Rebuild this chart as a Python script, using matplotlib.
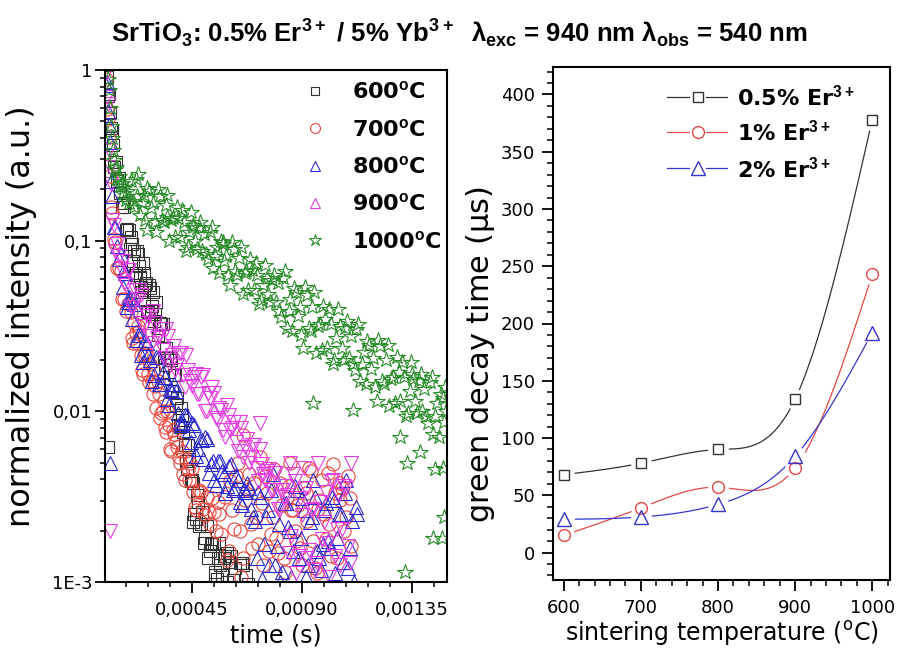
import numpy as np
import matplotlib
matplotlib.use('Agg')
import matplotlib.pyplot as plt
from matplotlib import font_manager
from matplotlib.lines import Line2D
from matplotlib.ticker import FixedLocator, FixedFormatter, MultipleLocator, LogLocator, NullFormatter

# ---------------- left panel: decay curves (time in microseconds, log10 of normalized intensity)
t_600 = [104, 108, 112, 116, 120, 124, 128, 133, 138, 144, 150, 156, 162, 168, 174, 180, 186, 192, 198, 205,
         212, 220, 228, 236, 244, 252, 260, 268, 276, 284, 292, 300, 310, 320, 330, 340, 350, 360, 370, 380,
         390, 400, 410, 420, 430, 440, 450, 460, 470, 480, 492, 504, 516, 528, 540, 552, 565, 580, 595, 610,
         625, 640, 660, 680, 700, 106, 454, 544, 560, 593, 655,
         202, 208, 216, 224, 232, 240, 248, 256, 264, 272, 280, 288, 296,
         305, 315, 325, 335, 345, 355, 365, 375, 385, 395, 405, 415, 425, 435, 445, 455, 465, 475,
         486, 498, 510, 522, 534, 546, 558, 572, 587, 602, 617, 632, 648, 670, 690]
logI_600 = [-0.04, -0.15, -0.14, -0.25, -0.34, -0.35, -0.44, -0.57, -0.54, -0.65, -0.63, -0.72, -0.80, -0.78, -0.80,
            -0.94, -0.93, -0.94, -1.05, -1.02, -1.06, -1.19, -1.08, -1.21, -1.30, -1.19, -1.26, -1.41, -1.26, -1.41,
            -1.30, -1.43, -1.55, -1.48, -1.49, -1.73, -1.69, -1.69, -1.88, -1.79, -1.92, -2.09, -2.02, -2.20, -2.34,
            -2.28, -2.40, -2.60, -2.49, -2.67, -2.59, -2.74, -2.86, -2.78, -2.77, -2.98, -2.90, -2.86, -3.00, -2.85,
            -2.92, -3.03, -2.90, -3.01, -3.08, -2.21, -2.65, -2.96, -2.77, -2.83, -2.89,
            -0.98, -1.12, -1.20, -1.06, -1.15, -1.27, -1.13, -1.29, -1.25, -1.42, -1.28, -1.38, -1.47,
            -1.36, -1.51, -1.49, -1.68, -1.63, -1.77, -1.70, -1.79, -1.96, -2.08, -1.98, -2.12, -2.29, -2.20, -2.41,
            -2.42, -2.63, -2.53,
            -2.66, -2.77, -2.67, -2.82, -2.78, -2.94, -2.86, -2.96, -2.85, -2.88, -2.99, -3.05, -2.89, -2.96, -3.06]

t_700 = [100, 104, 108, 112, 116, 120, 125, 130, 136, 142, 150, 158, 166, 174, 182, 190,
         200, 210, 220, 230, 240, 250, 260, 270, 280, 290, 300, 310, 320, 330, 340, 350, 360,
         372, 384, 396, 408, 420, 432, 444, 456, 468, 480, 495, 510, 525, 540, 555, 570,
         585, 600, 615, 630, 645, 660, 675, 690, 705, 720, 735, 750, 765, 780, 795, 810, 825, 840,
         855, 870, 885, 900, 915, 930, 945, 960, 975, 990, 1005, 1020, 1035, 1050, 1065, 1080, 1095,
         660, 851,
         205, 215, 225, 235, 245, 255, 265, 275, 285, 295, 305, 315, 325, 335, 345, 355,
         366, 378, 390, 402, 414, 426, 438, 450, 462, 474, 488, 502, 518, 532, 548, 562,
         592, 607, 622, 637, 652, 667, 682, 697, 712, 727, 742, 757, 772, 787, 802, 817, 832, 847,
         862, 877, 892, 907, 922, 937, 952, 967, 982, 997, 1012, 1027, 1042, 1057, 1072, 1087, 1102]
logI_700 = [-0.05, -0.23, -0.29, -0.39, -0.62, -0.80, -0.84, -0.99, -1.01, -1.16, -1.16, -1.18, -1.34, -1.34, -1.41, -1.37,
            -1.42, -1.60, -1.54, -1.50, -1.67, -1.78, -1.66, -1.78, -1.72, -1.90, -1.85, -1.82, -2.04, -2.00, -2.09, -2.00, -2.22,
            -2.11, -2.18, -2.27, -2.23, -2.40, -2.34, -2.30, -2.47, -2.58, -2.46, -2.57, -2.50, -2.66, -2.59, -2.53, -2.72,
            -2.50, -2.82, -2.58, -2.38, -2.70, -2.86, -2.46, -2.66, -2.42, -2.78, -2.54, -2.38, -2.82, -2.62, -2.74, -2.42,
            -2.86, -2.50, -2.58, -2.70, -2.55, -2.90, -2.48, -2.33, -2.76, -2.95, -2.52, -2.60, -2.36, -2.85, -2.48, -2.42,
            -2.45, -2.62, -2.51,
            -2.14, -2.30,
            -1.57, -1.48, -1.60, -1.53, -1.76, -1.67, -1.67, -1.83, -1.82, -1.76, -1.98, -1.90, -2.01, -1.94, -2.12, -2.08,
            -2.23, -2.13, -2.21, -2.30, -2.37, -2.28, -2.40, -2.33, -2.56, -2.47, -2.47, -2.61, -2.59, -2.51, -2.70, -2.60,
            -2.87, -2.41, -2.69, -2.30, -2.97, -2.52, -2.37, -2.80, -2.62, -2.27, -2.90, -2.48, -2.72, -2.34, -2.83, -2.55,
            -2.94, -2.44, -2.58, -2.76, -2.80, -2.45, -2.64, -2.35, -2.92, -2.57, -2.40, -2.75, -2.66, -2.31, -2.86, -2.52,
            -2.70, -2.38, -2.79]

t_800 = [100, 104, 108, 112, 116, 120, 125, 130, 136, 143, 150, 158,
         168, 178, 188, 198, 209, 222, 237, 250, 265, 280, 295, 310, 325, 340, 355, 370, 385, 400, 415, 430,
         445, 460, 475, 490, 505, 520, 535, 550, 565, 580, 595, 610, 625, 640, 655, 670, 685, 700,
         715, 730, 745, 760, 775, 790, 805, 820, 835, 850, 865, 880, 895, 910, 925, 940, 955, 970, 985, 1000,
         1015, 1030, 1045, 1060, 1075, 1090, 1105, 1120, 115,
         173, 183, 193, 203, 215, 229, 243, 257, 272, 287, 302, 317, 332, 347, 362, 377, 392, 407, 422, 437,
         452, 467, 482, 497, 512, 527, 542, 557, 572, 587, 602, 617, 632, 647, 662, 677, 692, 707,
         722, 737, 752, 767, 782, 797, 812, 827, 842, 857, 872, 887, 902, 917, 932, 947, 962, 977, 992, 1007,
         1022, 1037, 1052, 1067, 1082, 1097, 1112, 1127]
logI_800 = [-0.09, -0.07, -0.24, -0.32, -0.42, -0.65, -0.74, -0.92, -0.92, -1.03, -1.11, -1.08,
            -1.27, -1.19, -1.36, -1.34, -1.34, -1.58, -1.55, -1.71, -1.60, -1.70, -1.79, -1.68, -1.84, -1.80, -1.96,
            -1.88, -1.88, -2.06, -2.07, -2.02, -2.18, -2.08, -2.22, -2.17, -2.15, -2.36, -2.29, -2.43, -2.29, -2.37,
            -2.44, -2.31, -2.45, -2.40, -2.55, -2.47, -2.45, -2.62,
            -2.86, -2.50, -2.78, -2.58, -2.46, -2.90, -2.66, -2.94, -2.54, -2.70, -2.82, -2.46, -2.74, -2.58, -2.90,
            -2.62, -2.50, -2.86, -2.78, -2.54, -2.80, -2.52, -2.74, -2.60, -2.48, -2.92, -2.64, -2.56, -2.30,
            -1.17, -1.39, -1.33, -1.46, -1.37, -1.55, -1.67, -1.58, -1.67, -1.82, -1.68, -1.84, -1.77, -1.93, -1.87,
            -1.84, -2.01, -2.08, -2.02, -2.11, -2.07, -2.26, -2.17, -2.28, -2.16, -2.31, -2.40, -2.29, -2.35, -2.48,
            -2.32, -2.46, -2.38, -2.53, -2.46, -2.42, -2.57, -2.64,
            -2.47, -2.98, -2.62, -2.90, -2.37, -2.79, -3.00, -2.54, -2.68, -2.97, -2.44, -2.86, -2.51, -2.97, -2.65,
            -2.40, -2.82, -2.93, -2.58, -2.76, -2.50, -2.95, -2.60, -2.88, -2.40, -2.80, -3.00, -2.60]

t_900 = [100, 104, 108, 112, 116, 120, 125, 130, 136, 143, 150, 158,
         168, 180, 193, 209, 225, 240, 255, 270, 285, 300, 315, 330, 345, 360, 375, 390, 405, 420, 435, 450,
         465, 480, 495, 510, 525, 540, 555, 570, 585, 600, 615, 630, 645, 660, 675, 690, 705, 720, 735, 750,
         765, 780, 795, 810, 825,
         840, 855, 870, 885, 900, 915, 930, 945, 960, 975, 990, 1005, 1020, 1035, 1050, 1065, 1080, 1095,
         115, 728, 851,
         174, 187, 201, 217, 232, 247, 262, 277, 292, 307, 322, 337, 352, 367, 382, 397, 412, 427, 442, 457,
         472, 487, 502, 517, 532, 547, 562, 577, 592, 607, 622, 637, 652, 667, 682, 697, 712, 727, 742, 757,
         772, 787, 802, 817, 832,
         847, 862, 877, 892, 907, 922, 937, 952, 967, 982, 997, 1012, 1027, 1042, 1057, 1072, 1087, 1102]
logI_900 = [-0.02, -0.16, -0.20, -0.47, -0.57, -0.67, -0.88, -0.91, -1.06, -1.02, -1.09, -1.16,
            -1.12, -1.26, -1.17, -1.39, -1.34, -1.32, -1.50, -1.44, -1.60, -1.48, -1.56, -1.64, -1.52, -1.73, -1.62,
            -1.73, -1.66, -1.86, -1.76, -1.85, -1.78, -1.90, -1.79, -2.00, -1.92, -1.89, -2.05, -1.99, -2.15, -2.02,
            -2.10, -2.18, -2.06, -2.27, -2.16, -2.27, -2.20, -2.41, -2.31, -2.40, -2.34, -2.46, -2.36, -2.57, -2.50,
            -2.49, -2.73, -2.41, -2.85, -2.61, -2.45, -2.81, -2.57, -2.89, -2.53, -2.65, -2.77, -2.41, -2.85, -2.49,
            -2.69, -2.45, -2.89,
            -2.70, -2.07, -2.30,
            -1.25, -1.17, -1.39, -1.29, -1.29, -1.48, -1.43, -1.56, -1.41, -1.57, -1.52, -1.69, -1.56, -1.67, -1.76,
            -1.66, -1.79, -1.67, -1.82, -1.80, -1.90, -1.80, -2.00, -1.89, -1.86, -2.04, -1.98, -2.11, -1.96, -2.11,
            -2.06, -2.23, -2.10, -2.21, -2.30, -2.20, -2.33, -2.22, -2.37, -2.35, -2.46, -2.36, -2.57, -2.46, -2.44,
            -2.83, -2.37, -2.95, -2.51, -2.33, -2.86, -2.58, -2.93, -2.30, -2.75, -2.47, -2.97, -2.40, -2.69, -2.90,
            -2.44, -2.79, -2.30]

t_1000 = [108, 112, 116, 119, 122, 126, 130, 135, 140, 145, 150, 156, 162, 168, 174, 180, 186, 192,
          200, 215, 230, 245, 260, 275, 290, 305, 320, 335, 350, 365, 380, 395, 410, 425, 440, 455, 470, 485,
          500, 515, 530, 545, 560, 575, 590, 605, 620, 635, 650, 665, 680, 695, 710, 725, 740, 755, 770, 785,
          800, 815, 830, 845, 860, 875, 890, 905, 920, 935, 950, 965, 980, 995, 1010, 1025, 1040, 1055, 1070, 1085,
          1100, 1115, 1130, 1145, 1160, 1175, 1190, 1205, 1220, 1235, 1250, 1265, 1280, 1295, 1310, 1325, 1340,
          1355, 1370, 1385, 1400, 1415, 1430, 1445, 1460, 1475, 1490,
          207, 222, 237, 252, 267, 282, 297, 312, 327, 342, 357, 372, 387, 402, 417, 432, 447, 462, 477, 492,
          507, 522, 537, 552, 567, 582, 597, 612, 627, 642, 657, 672, 687, 702, 717, 732, 747, 762, 777, 792,
          807, 822, 837, 852, 867, 882, 897, 912, 927, 942, 957, 972, 987, 1002, 1017, 1032, 1047, 1062, 1077, 1092,
          1107, 1122, 1137, 1152, 1167, 1182, 1197, 1212, 1227, 1242, 1257, 1272, 1287, 1302, 1317, 1332, 1347,
          1362, 1377, 1392, 1407, 1422, 1437, 1452, 1467, 1482,
          225, 266, 348, 454, 577, 945, 1109, 1350, 1485, 1321, 1436, 1473, 1481, 1444, 1330, 1383, 1477, 1301]
logI_1000 = [-0.05, -0.12, -0.22, -0.33, -0.40, -0.47, -0.53, -0.58, -0.57, -0.64, -0.62, -0.68, -0.66, -0.72, -0.69,
             -0.76, -0.71, -0.78,
             -0.65, -0.80, -0.61, -0.78, -0.88, -0.71, -0.78, -0.95, -0.74, -0.89, -0.73, -0.88, -0.98, -0.87, -0.82,
             -1.06, -0.95, -0.91, -1.05, -0.89, -0.96, -1.11, -0.92, -1.09, -1.19, -1.02, -1.09, -1.26, -1.05, -1.20,
             -1.04, -1.19, -1.29, -1.17, -1.13, -1.37, -1.26, -1.22, -1.36, -1.20, -1.25, -1.45, -1.18, -1.41, -1.53,
             -1.30, -1.39, -1.63, -1.32, -1.53, -1.30, -1.50, -1.64, -1.46, -1.40, -1.72, -1.57, -1.50, -1.70, -1.47,
             -1.56, -1.76, -1.49, -1.72, -1.84, -1.61, -1.69, -1.94, -1.62, -1.84, -1.61, -1.81, -1.95, -1.77, -1.71,
             -2.03, -1.88, -1.81, -2.01, -1.78, -1.87, -2.07, -1.80, -2.03, -2.15, -1.92, -2.00,
             -0.77, -0.64, -0.85, -0.73, -0.69, -0.81, -0.89, -0.70, -0.88, -0.79, -1.00, -0.87, -0.80, -0.98, -0.89,
             -1.04, -0.83, -1.00, -0.92, -1.06, -1.08, -0.95, -1.16, -1.04, -1.00, -1.12, -1.20, -1.01, -1.18, -1.10,
             -1.31, -1.18, -1.11, -1.29, -1.20, -1.35, -1.14, -1.31, -1.23, -1.36, -1.41, -1.22, -1.51, -1.34, -1.28,
             -1.44, -1.55, -1.27, -1.51, -1.39, -1.66, -1.49, -1.38, -1.63, -1.49, -1.70, -1.40, -1.63, -1.51, -1.69,
             -1.72, -1.52, -1.82, -1.65, -1.59, -1.75, -1.86, -1.58, -1.82, -1.70, -1.97, -1.80, -1.68, -1.94, -1.80,
             -2.01, -1.71, -1.94, -1.82, -2.00, -2.03, -1.83, -2.13, -1.95, -1.90, -2.06,
             -0.74, -0.94, -0.86, -0.92, -1.01, -1.95, -1.99, -1.78, -1.86, -2.94, -2.74, -2.74, -2.62, -2.34, -2.30,
             -2.24, -2.33, -2.15]

decay_labels = ['600', '700', '800', '900', '1000']

# ---------------- right panel: green decay time vs sintering temperature
temps = [600, 700, 800, 900, 1000]
tau_05 = [68, 78, 90, 134, 378]
tau_1 = [15, 39, 57, 74, 243]
tau_2 = [29, 31, 42, 84, 192]
conc_labels = ['0.5%', '1%', '2%']


def natural_spline(x, y, xs):
    x = np.asarray(x, float)
    y = np.asarray(y, float)
    n = len(x)
    h = np.diff(x)
    A = np.zeros((n, n))
    b = np.zeros(n)
    A[0, 0] = 1
    A[-1, -1] = 1
    for i in range(1, n - 1):
        A[i, i - 1] = h[i - 1]
        A[i, i] = 2 * (h[i - 1] + h[i])
        A[i, i + 1] = h[i]
        b[i] = 3 * ((y[i + 1] - y[i]) / h[i] - (y[i] - y[i - 1]) / h[i - 1])
    c = np.linalg.solve(A, b)
    out = np.empty_like(xs, dtype=float)
    for j, xv in enumerate(xs):
        i = min(max(np.searchsorted(x, xv) - 1, 0), n - 2)
        bi = (y[i + 1] - y[i]) / h[i] - h[i] * (2 * c[i] + c[i + 1]) / 3
        di = (c[i + 1] - c[i]) / (3 * h[i])
        dx = xv - x[i]
        out[j] = y[i] + bi * dx + c[i] * dx ** 2 + di * dx ** 3
    return out


installed = {f.name for f in font_manager.fontManager.ttflist}
if 'Liberation Sans Narrow' in installed:
    title_family, title_size = 'Liberation Sans Narrow', 22
else:
    title_family, title_size = 'Liberation Sans', 18.5

plt.rcParams['font.family'] = ['DejaVu Sans']
plt.rcParams['mathtext.fontset'] = 'custom'
plt.rcParams['mathtext.rm'] = 'DejaVu Sans'
plt.rcParams['mathtext.it'] = 'DejaVu Sans:italic'
plt.rcParams['mathtext.bf'] = title_family + ':bold'

fig = plt.figure(figsize=(8.97, 6.5), dpi=100)
ax1 = fig.add_axes([105 / 897, 68 / 650, 342 / 897, 512 / 650])
ax2 = fig.add_axes([553 / 897, 70 / 650, 337 / 897, 513 / 650])

# ---- left panel
series = [
    (t_600, logI_600, 's', '#333333', 8.5),
    (t_700, logI_700, 'o', '#e8453c', 9.5),
    (t_800, logI_800, '^', '#2a2ad0', 10),
    (t_900, logI_900, 'v', '#e23ce2', 10),
    (t_1000, logI_1000, '*', '#2a8c2a', 11.5),
]
for t, li, mk, col, ms in series:
    ax1.plot(np.asarray(t) * 1e-6, 10 ** np.asarray(li), ls='none', marker=mk, ms=ms,
             mfc='none', mec=col, mew=0.8)

ax1.set_yscale('log')
ax1.set_ylim(1e-3, 1)
ax1.set_xlim(0.0000945, 0.001493)
ax1.yaxis.set_major_locator(FixedLocator([1e-3, 1e-2, 1e-1, 1]))
ax1.yaxis.set_major_formatter(FixedFormatter(['1E-3', '0,01', '0,1', '1']))
ax1.yaxis.set_minor_locator(LogLocator(base=10, subs=np.arange(2, 10)))
ax1.yaxis.set_minor_formatter(NullFormatter())
ax1.xaxis.set_major_locator(FixedLocator([0.00045, 0.00090, 0.00135]))
ax1.xaxis.set_major_formatter(FixedFormatter(['0,00045', '0,00090', '0,00135']))
ax1.xaxis.set_minor_locator(FixedLocator([0.00018, 0.00027, 0.00036, 0.00054, 0.00063, 0.00072, 0.00081,
                                          0.00099, 0.00108, 0.00117, 0.00126, 0.00144]))
ax1.tick_params(axis='y', which='major', length=7, width=1.3, direction='out', labelsize=13, pad=2)
ax1.tick_params(axis='y', which='minor', length=3.5, width=1.1, direction='out')
ax1.tick_params(axis='x', which='major', length=8, width=1.3, direction='out', labelsize=13, pad=6)
ax1.tick_params(axis='x', which='minor', length=3.5, width=1.1, direction='out')
ax1.set_xlabel('time (s)', fontsize=17, labelpad=3)
ax1.set_ylabel('normalized intensity (a.u.)', fontsize=23)
ax1.yaxis.set_label_coords(-0.20, 0.52)

leg_handles = []
for (t, li, mk, col, ms), lab in zip(series, decay_labels):
    mk_leg = '^' if mk == 'v' else mk
    leg_handles.append(Line2D([], [], ls='none', marker=mk_leg, ms=ms * 0.75, mfc='none', mec=col, mew=0.8))
ax1.legend(leg_handles, [lab + r'$^\mathbf{o}$C' for lab in decay_labels],
           loc='upper left', bbox_to_anchor=(0.537, 1.005), frameon=False,
           prop={'weight': 'bold', 'size': 16}, handlelength=1.2, handletextpad=1.06,
           labelspacing=0.69, borderaxespad=0.2)

# ---- right panel
xs = np.linspace(600, 1000, 400)
rseries = [
    (tau_05, 's', '#333333', 7.5),
    (tau_1, 'o', '#e04848', 8.5),
    (tau_2, '^', '#3535d0', 9.5),
]
for vals, mk, col, ms in rseries:
    ax2.plot(xs, natural_spline(temps, vals, xs), color=col, lw=0.9, zorder=2)
for vals, mk, col, ms in rseries:
    ax2.plot(temps, vals, ls='none', marker='o', ms=15, mfc='white', mec='none', zorder=3)
for vals, mk, col, ms in rseries:
    ax2.plot(temps, vals, ls='none', marker=mk, ms=ms, mfc='none', mec=col, mew=1.0, zorder=4)

ax2.set_xlim(586, 1023)
ax2.set_ylim(-24, 424)
ax2.xaxis.set_major_locator(MultipleLocator(100))
ax2.xaxis.set_minor_locator(MultipleLocator(20))
ax2.yaxis.set_major_locator(MultipleLocator(50))
ax2.yaxis.set_minor_locator(MultipleLocator(10))
ax2.tick_params(axis='both', which='major', length=8, width=1.3, direction='out', labelsize=13)
ax2.tick_params(axis='both', which='minor', length=4, width=1.1, direction='out')
ax2.tick_params(axis='y', which='major', pad=5)
ax2.tick_params(axis='x', which='major', pad=6)
ax2.set_xlabel(r'sintering temperature ($^\mathrm{o}$C)', fontsize=17, labelpad=1)
ax2.set_ylabel(r'green decay time ($\mathrm{\mu}$s)', fontsize=22)
ax2.yaxis.set_label_coords(-0.165, 0.44)

# legend of the right panel: line - gap - symbol - gap - line, then the label
leg_rows = [0.9415, 0.8733, 0.803]
for (vals, mk, col, ms), lab, yr in zip(rseries, conc_labels, leg_rows):
    ax2.plot([0.338, 0.405], [yr, yr], color=col, lw=0.9, transform=ax2.transAxes, clip_on=False)
    ax2.plot([0.455, 0.516], [yr, yr], color=col, lw=0.9, transform=ax2.transAxes, clip_on=False)
    ax2.plot([0.430], [yr], ls='none', marker=mk, ms=ms, mfc='none', mec=col, mew=1.0,
             transform=ax2.transAxes, clip_on=False)
    ax2.text(0.546, yr, lab + r' Er$^\mathbf{3+}$', transform=ax2.transAxes, fontsize=16,
             fontweight='bold', va='center', ha='left')

for ax in (ax1, ax2):
    for sp in ax.spines.values():
        sp.set_linewidth(1.5)

fig.text(0.512, 1 - 42 / 650,
         r'SrTiO$_\mathbf{3}$: 0.5% Er$^\mathbf{3+}$ / 5% Yb$^\mathbf{3+}$  λ$_\mathbf{exc}$ = 940 nm λ$_\mathbf{obs}$ = 540 nm',
         ha='center', va='baseline', fontsize=title_size, fontweight='bold', family=title_family)

fig.savefig('out.png', dpi=100)
